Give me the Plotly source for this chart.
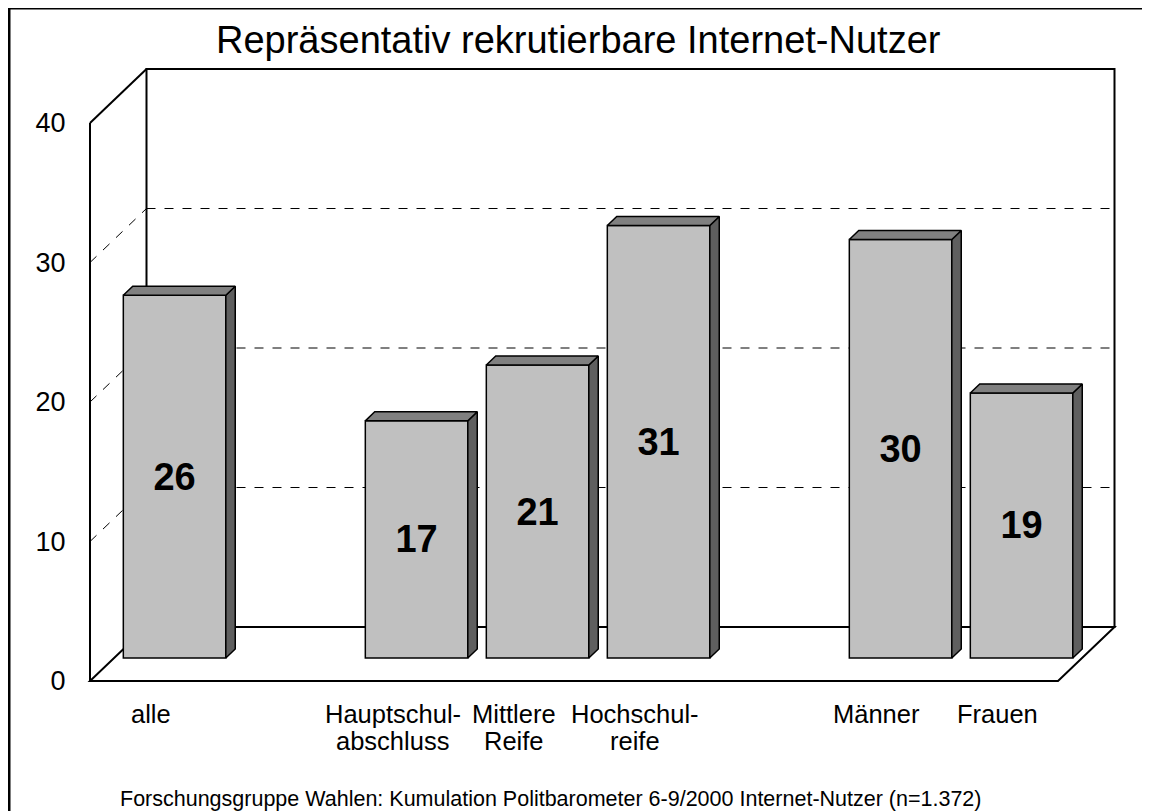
import plotly.graph_objects as go

# ---------------- data ----------------
categories = ["alle", "Hauptschul-\nabschluss", "Mittlere\nReife", "Hochschul-\nreife", "Männer", "Frauen"]
groups = [0, 1, 1, 1, 2, 2]
values = [26, 17, 21, 31, 30, 19]
y_ticks = [0, 10, 20, 30, 40]
title = "Repräsentativ rekrutierbare Internet-Nutzer"
source = "Forschungsgruppe Wahlen: Kumulation Politbarometer 6-9/2000 Internet-Nutzer (n=1.372)"

# ---------------- geometry / style ----------------
OFF = 8               # page body margin offset
W_PX, H_PX = 1150 - OFF, 811 - OFF
FONT = "Arial, Liberation Sans, sans-serif"
PX_X = 121.0          # pixels per slot
X0_PX = 150.5 - OFF   # pixel of slot 0 at front plane
PX_Y = 13.95          # pixels per value unit
Y0_PX = 681.0 - OFF   # pixel of value 0 at front plane
DX = 56.5 / PX_X      # full depth shift in slots
DY = 54.0 / PX_Y      # full depth shift in value units
BAR_D0, BAR_D1 = 0.426, 0.593
BAR_W = 102.5 / PX_X
YMAX = max(y_ticks)

# slot positions with a gap between groups
slots = []
for i, g in enumerate(groups):
    slots.append(i + g)
s_min, s_max = min(slots) - 0.5, max(slots) + 0.5

def v_of(page_py):
    return (Y0_PX - (page_py - OFF)) / PX_Y

def px_frac(page_px):
    return (page_px - OFF) / W_PX

def py_frac(page_py):
    return 1 - (page_py - OFF) / H_PX

xr = [(0 - X0_PX) / PX_X, (W_PX - X0_PX) / PX_X]
yr = [(Y0_PX - H_PX) / PX_Y, Y0_PX / PX_Y]

fig = go.Figure()

# ---------- bars (3D) ----------
ddx = (BAR_D1 - BAR_D0) * DX
ddy = (BAR_D1 - BAR_D0) * DY
base = BAR_D0 * DY
centers = [s + BAR_D0 * DX for s in slots]

for cx, v in zip(centers, values):
    x0, x1 = cx - BAR_W / 2, cx + BAR_W / 2
    y0, y1 = base, base + v
    # side face
    fig.add_trace(go.Scatter(
        x=[x1, x1 + ddx, x1 + ddx, x1, x1], y=[y0, y0 + ddy, y1 + ddy, y1, y0],
        mode="lines", fill="toself", fillcolor="#5f5f5f",
        line=dict(color="black", width=1.5), hoverinfo="skip", showlegend=False))
    # top face
    fig.add_trace(go.Scatter(
        x=[x0, x0 + ddx, x1 + ddx, x1, x0], y=[y1, y1 + ddy, y1 + ddy, y1, y1],
        mode="lines", fill="toself", fillcolor="#808080",
        line=dict(color="black", width=1.5), hoverinfo="skip", showlegend=False))

fig.add_trace(go.Bar(
    x=centers, y=values, base=[base] * len(values), width=BAR_W,
    marker=dict(color="#c0c0c0", line=dict(color="black", width=1.5)),
    text=[str(v) for v in values], texttemplate="<b>%{text}</b>",
    textposition="inside", insidetextanchor="middle", textangle=0,
    textfont=dict(family=FONT, size=38, color="black"),
    hoverinfo="skip", showlegend=False))

# ---------- walls / floor (shapes below traces) ----------
shapes = []
bx0, bx1 = s_min + DX, s_max + DX
# floor
shapes.append(dict(type="path", xref="x", yref="y", layer="below",
                   path=f"M {s_min},0 L {s_max},0 L {s_max + DX},{DY} L {s_min + DX},{DY} Z",
                   line=dict(color="black", width=2), fillcolor="white"))
# back wall
shapes.append(dict(type="rect", xref="x", yref="y", layer="below",
                   x0=bx0, x1=bx1, y0=DY, y1=DY + YMAX,
                   line=dict(color="black", width=2)))
# front-left axis edge
shapes.append(dict(type="line", xref="x", yref="y", layer="below",
                   x0=s_min, x1=s_min, y0=0, y1=YMAX, line=dict(color="black", width=2)))
# top diagonal
shapes.append(dict(type="line", xref="x", yref="y", layer="below",
                   x0=s_min, x1=s_min + DX, y0=YMAX, y1=YMAX + DY, line=dict(color="black", width=2)))
# grid lines
for t in y_ticks[1:-1]:
    shapes.append(dict(type="line", xref="x", yref="y", layer="below",
                       x0=bx0, x1=bx1, y0=t + DY, y1=t + DY,
                       line=dict(color="black", width=1, dash="dash")))
    shapes.append(dict(type="line", xref="x", yref="y", layer="below",
                       x0=s_min, x1=s_min + DX, y0=t, y1=t + DY,
                       line=dict(color="black", width=1, dash="dash")))
# outer border
shapes.append(dict(type="rect", xref="paper", yref="paper",
                   x0=px_frac(9), x1=1.05, y0=py_frac(8), y1=-0.05,
                   line=dict(color="black", width=3)))

# ---------- category labels ----------
annotations = []
for s, cat in zip(slots, categories):
    for k, line in enumerate(cat.split("\n")):
        annotations.append(dict(x=s, y=v_of(714 + 27 * k), xref="x", yref="y",
                                 text=line, showarrow=False, xanchor="center", yanchor="middle",
                                 borderpad=0,
                                 font=dict(family=FONT, size=25.5, color="black")))
annotations.append(dict(x=px_frac(578), y=py_frac(40), xref="paper", yref="paper",
                        text=title, showarrow=False, xanchor="center", yanchor="middle",
                        font=dict(family=FONT, size=38, color="black")))
annotations.append(dict(x=px_frac(118), y=py_frac(799), xref="paper", yref="paper",
                        text=source, showarrow=False, xanchor="left", yanchor="middle",
                        font=dict(family=FONT, size=21.5, color="black")))

fig.update_layout(
    width=W_PX, height=H_PX, template="none",
    margin=dict(l=0, r=0, t=0, b=0, pad=0),
    paper_bgcolor="white", plot_bgcolor="white",
    shapes=shapes, annotations=annotations, showlegend=False,
    xaxis=dict(range=xr, visible=False, fixedrange=True),
    yaxis=dict(range=yr, anchor="free", position=px_frac(90), side="left",
               tickvals=y_ticks, ticktext=[str(t) for t in y_ticks],
               ticks="outside", ticklen=19, tickcolor="rgba(0,0,0,0)",
               showgrid=False, zeroline=False, showline=False, automargin=False,
               tickfont=dict(family=FONT, size=27, color="black"), fixedrange=True),
)

fig.write_html("out.html")
